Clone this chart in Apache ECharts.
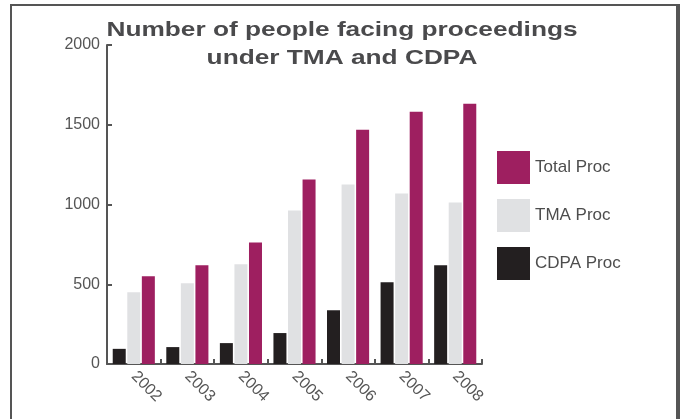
<!DOCTYPE html>
<html>
<head>
<meta charset="utf-8">
<script src="https://cdn.jsdelivr.net/npm/echarts@6/dist/echarts.min.js"></script>
<style>
  html, body { margin: 0; padding: 0; background: #ffffff; }
  #chart { width: 683px; height: 419px; }
</style>
</head>
<body>
<div id="chart"></div>
<script>
// Proceedings per year
var years = ['2002', '2003', '2004', '2005', '2006', '2007', '2008'];
var cdpaProc = [95, 106, 131, 194, 337, 512, 619];
var tmaProc = [450, 506, 625, 962, 1125, 1069, 1012];
var totalProc = [550, 619, 762, 1156, 1469, 1581, 1631];
var yTicks = { min: 0, max: 2000, step: 500 };

var FONT = '"Liberation Sans", Arial, sans-serif';
var AXIS = '#555555';

var chart = echarts.init(document.getElementById('chart'), null, { renderer: 'canvas' });

chart.setOption({
  animation: false,
  backgroundColor: '#ffffff',
  grid: { left: 107, right: 201, top: 45, bottom: 55, containLabel: false },
  legend: {
    orient: 'vertical',
    left: 497,
    top: 151,
    padding: 0,
    itemWidth: 33,
    itemHeight: 33,
    itemGap: 15,
    icon: 'rect',
    data: ['Total Proc', 'TMA Proc', 'CDPA Proc'],
    textStyle: { fontFamily: FONT, fontSize: 17, color: '#4d4d4d' }
  },
  xAxis: {
    type: 'category',
    data: years,
    axisLine: { show: true, lineStyle: { color: AXIS, width: 2 } },
    axisTick: { show: true, inside: true, length: 5, lineStyle: { color: AXIS, width: 2 } },
    axisLabel: { rotate: -45, margin: 10, fontFamily: FONT, fontSize: 16, color: '#555555' },
    splitLine: { show: false }
  },
  yAxis: {
    type: 'value',
    min: yTicks.min,
    max: yTicks.max,
    interval: yTicks.step,
    axisLine: { show: true, lineStyle: { color: AXIS, width: 2 } },
    axisTick: { show: true, inside: true, length: 5, lineStyle: { color: AXIS, width: 2 } },
    axisLabel: { margin: 7, fontFamily: FONT, fontSize: 16, color: '#555555',
                 formatter: function (v) { return String(v); } },
    splitLine: { show: false }
  },
  series: [
    { name: 'CDPA Proc', type: 'bar', data: cdpaProc, barWidth: 13, barGap: '12%',
      itemStyle: { color: '#231f20' } },
    { name: 'TMA Proc', type: 'bar', data: tmaProc, barWidth: 13, barGap: '12%',
      itemStyle: { color: '#e0e1e3' } },
    { name: 'Total Proc', type: 'bar', data: totalProc, barWidth: 13, barGap: '12%',
      itemStyle: { color: '#9e1f60' } }
  ],
  graphic: [
    // frame
    { type: 'line', shape: { x1: 11, y1: 5, x2: 11, y2: 430 }, style: { stroke: '#555555', lineWidth: 2 } },
    { type: 'line', shape: { x1: 10, y1: 5, x2: 680, y2: 5 }, style: { stroke: '#555555', lineWidth: 2 } },
    { type: 'line', shape: { x1: 678, y1: 4, x2: 678, y2: 430 }, style: { stroke: '#555555', lineWidth: 4 } },
    // title, two lines
    { type: 'text', x: 342, y: 20, scaleX: 1.25, scaleY: 1,
      style: { text: 'Number of people facing proceedings', textAlign: 'center', textVerticalAlign: 'top',
               font: 'bold 21px ' + FONT, fill: '#4a4a4c' } },
    { type: 'text', x: 342, y: 48, scaleX: 1.25, scaleY: 1,
      style: { text: 'under TMA and CDPA', textAlign: 'center', textVerticalAlign: 'top',
               font: 'bold 21px ' + FONT, fill: '#4a4a4c' } }
  ]
});
</script>
</body>
</html>
